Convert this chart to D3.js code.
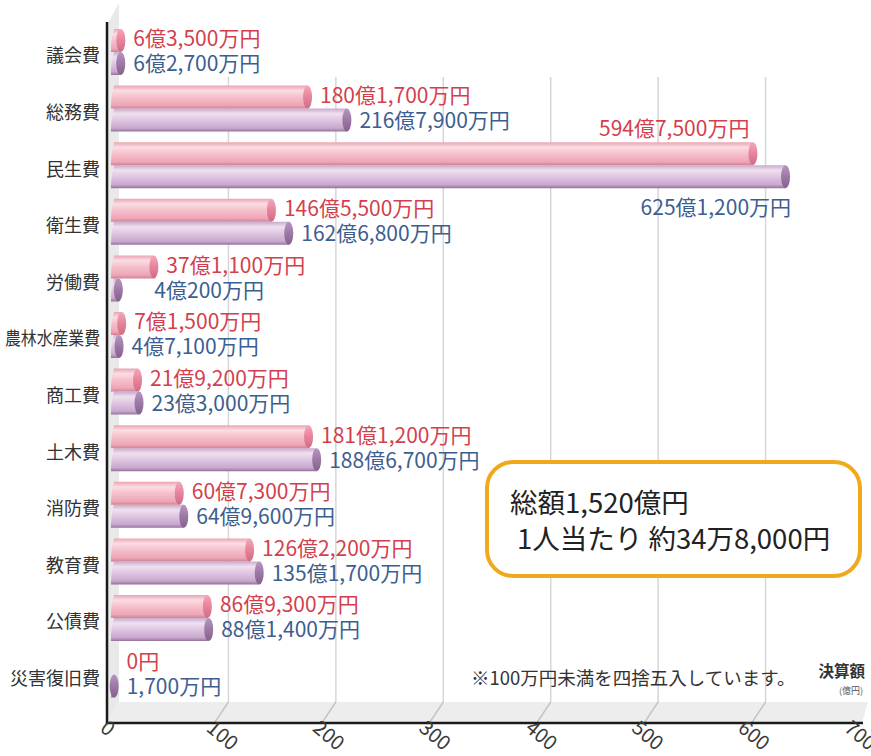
<!DOCTYPE html>
<html>
<head>
<meta charset="utf-8">
<script src="https://cdn.jsdelivr.net/npm/d3@7"></script>
<style>
  body { margin: 0; background: #fff; }
  svg { display: block; font-family: "Noto Sans CJK JP", "Noto Sans", sans-serif; }
</style>
</head>
<body>
<div id="chart"></div>
<script>
// 歳出 決算額 (億円)
var categories = ["議会費", "総務費", "民生費", "衛生費", "労働費", "農林水産業費", "商工費", "土木費", "消防費", "教育費", "公債費", "災害復旧費"];
var pinkValues = [6.35, 180.17, 594.75, 146.55, 37.11, 7.15, 21.92, 181.12, 60.73, 126.22, 86.93, 0];
var purpleValues = [6.27, 216.79, 625.12, 162.68, 4.02, 4.71, 23.30, 188.67, 64.96, 135.17, 88.14, 0.17];
var pinkLabels = ["6億3,500万円", "180億1,700万円", "594億7,500万円", "146億5,500万円", "37億1,100万円", "7億1,500万円", "21億9,200万円", "181億1,200万円", "60億7,300万円", "126億2,200万円", "86億9,300万円", "0円"];
var purpleLabels = ["6億2,700万円", "216億7,900万円", "625億1,200万円", "162億6,800万円", "4億200万円", "4億7,100万円", "23億3,000万円", "188億6,700万円", "64億9,600万円", "135億1,700万円", "88億1,400万円", "1,700万円"];
var tickValues = [0, 100, 200, 300, 400, 500, 600, 700];
var totalLines = ["総額1,520億円", "1人当たり 約34万8,000円"];
var noteText = "※100万円未満を四捨五入しています。";

var W = 871, H = 756;
var svg = d3.select("#chart").append("svg").attr("width", W).attr("height", H);

// three depth planes: back wall, bar plane, front edge of floor
var xBack = d3.scaleLinear().domain([0, 700]).range([121, 873]);
var xBar = d3.scaleLinear().domain([0, 700]).range([114, 866]);
var xFront = d3.scaleLinear().domain([0, 700]).range([107, 859]);
var xTickLabel = d3.scaleLinear().domain([0, 700]).range([99, 843]);
var y = d3.scaleBand().domain(categories).range([23.7, 702.9]);
var floorBack = 702, floorFront = 723;

var defs = svg.append("defs");
function cylGrad(id, stops) {
	var g = defs.append("linearGradient").attr("id", id)
		.attr("x1", 0).attr("y1", 0).attr("x2", 0).attr("y2", 1);
	g.selectAll("stop").data(stops).enter().append("stop")
		.attr("offset", function(d) { return d[0]; })
		.attr("stop-color", function(d) { return d[1]; });
}
cylGrad("pinkBody", [[0, "#eaa3b3"], [0.22, "#fbdde4"], [0.5, "#f5c0cb"], [0.85, "#eea6b6"], [1, "#cf8395"]]);
cylGrad("purpleBody", [[0, "#c9a9cd"], [0.22, "#efe0f0"], [0.5, "#dfc6e1"], [0.85, "#c9a8ce"], [1, "#94719c"]]);
cylGrad("pinkCap", [[0, "#f3a7b9"], [0.5, "#e7839b"], [1, "#cf6d86"]]);
cylGrad("purpleCap", [[0, "#b795bd"], [0.5, "#9d78a6"], [1, "#83628b"]]);

// left wall
svg.append("polygon")
	.attr("points", [[107, 25], [119, 3], [119, floorBack], [107, floorFront]].join(" "))
	.attr("fill", "#e9e9e9");

// floor
svg.append("polygon")
	.attr("points", [[119, floorBack], [xBack(700) - 5, floorBack], [xFront(700) + 3, floorFront], [107, floorFront]].join(" "))
	.attr("fill", "#ededed");

// gridlines on back wall and floor
var grid = svg.append("g").attr("stroke", "#d6d6d6").attr("stroke-width", 1.5).attr("fill", "none");
grid.selectAll(".gv").data(tickValues.slice(1, 7)).enter().append("line")
	.attr("x1", function(d) { return xBack(d); }).attr("x2", function(d) { return xBack(d); })
	.attr("y1", 77).attr("y2", floorBack);
grid.selectAll(".gf").data(tickValues.slice(1, 7)).enter().append("line")
	.attr("stroke", "#c4c4c4")
	.attr("x1", function(d) { return xBack(d); }).attr("x2", function(d) { return xFront(d); })
	.attr("y1", floorBack).attr("y2", floorFront);

// axis lines
svg.append("line").attr("x1", 107).attr("x2", 107).attr("y1", 22).attr("y2", floorFront + 1)
	.attr("stroke", "#1a1a1a").attr("stroke-width", 2.5);
svg.append("line").attr("x1", 106).attr("x2", xFront(700) + 4).attr("y1", floorFront).attr("y2", floorFront)
	.attr("stroke", "#1a1a1a").attr("stroke-width", 2.5);

// bars
var barH = 23, capRx = 4.5, x0 = 111;
function drawBar(g, v, top, body, cap) {
	if (v <= 0) return;
	var xe = Math.max(xBar(v), x0 + 2);
	g.append("path")
		.attr("d", "M" + (x0 + 3) + "," + top + " L" + xe + "," + top + " L" + xe + "," + (top + barH) +
			" L" + x0 + "," + (top + barH) + " Q" + (x0 - 0.5) + "," + (top + barH / 2) + " " + (x0 + 3) + "," + top + " Z")
		.attr("fill", "url(#" + body + ")");
	g.append("ellipse")
		.attr("cx", xe).attr("cy", top + barH / 2)
		.attr("rx", capRx).attr("ry", barH / 2)
		.attr("fill", "url(#" + cap + ")");
}

var rows = svg.append("g");
categories.forEach(function(cat, i) {
	var c = y(cat) + y.bandwidth() / 2;
	var row = rows.append("g").attr("class", "row");
	drawBar(row, purpleValues[i], c, "purpleBody", "purpleCap");
	drawBar(row, pinkValues[i], c - barH, "pinkBody", "pinkCap");
});

// value labels
var labels = svg.append("g").attr("font-size", 21);
categories.forEach(function(cat, i) {
	var c = y(cat) + y.bandwidth() / 2;
	var pinkEdge = xBar(pinkValues[i]) + capRx;
	var purpleEdge = xBar(purpleValues[i]) + capRx;
	var pink = labels.append("text").attr("fill", "#d43f4d").attr("dy", "0.35em").text(pinkLabels[i]);
	var purple = labels.append("text").attr("fill", "#3c5e91").attr("dy", "0.35em").text(purpleLabels[i]);
	if (purpleEdge > 700) {
		// long bar: labels sit above and below, ending at the bar tip
		pink.attr("text-anchor", "end").attr("x", pinkEdge - 8).attr("y", c - 37);
		purple.attr("text-anchor", "end").attr("x", purpleEdge + 1).attr("y", c + 42);
	} else {
		pink.attr("x", pinkEdge + 8).attr("y", c - 13);
		purple.attr("x", Math.max(purpleEdge, pinkEdge - 12) + 8).attr("y", c + 12);
	}
});

// category labels
svg.append("g").selectAll("text").data(categories).enter().append("text")
	.attr("x", 100)
	.attr("y", function(d) { return y(d) + y.bandwidth() / 2 + 4; })
	.attr("dy", "0.35em")
	.attr("text-anchor", "end")
	.attr("font-size", 18)
	.attr("fill", "#333")
	.attr("textLength", function(d) { return d.length > 5 ? 95 : null; })
	.attr("lengthAdjust", "spacingAndGlyphs")
	.text(function(d) { return d; });

// x tick labels (slanted)
svg.append("g").selectAll("text").data(tickValues).enter().append("text")
	.attr("transform", function(d) { return "translate(" + xTickLabel(d) + "," + 730 + ") rotate(40)"; })
	.attr("font-size", 20)
	.attr("fill", "#3a3a3a")
	.text(function(d) { return d; });

// axis title
svg.append("text").attr("x", 865).attr("y", 672).attr("dy", "0.35em")
	.attr("text-anchor", "end").attr("font-size", 15.5).attr("font-weight", "bold").attr("fill", "#333")
	.text("決算額");
svg.append("text").attr("x", 863).attr("y", 691).attr("dy", "0.35em")
	.attr("text-anchor", "end").attr("font-size", 9).attr("fill", "#555")
	.text("(億円)");

// note
svg.append("text").attr("x", 471).attr("y", 679).attr("dy", "0.35em")
	.attr("font-size", 18.5).attr("fill", "#333")
	.text(noteText);

// total box
svg.append("rect")
	.attr("x", 487).attr("y", 462).attr("width", 373).attr("height", 114)
	.attr("rx", 26).attr("ry", 26)
	.attr("fill", "#fff").attr("stroke", "#efa91b").attr("stroke-width", 4);
svg.append("g").selectAll("text").data(totalLines).enter().append("text")
	.attr("x", function(d, i) { return i === 0 ? 510 : 517; })
	.attr("y", function(d, i) { return i === 0 ? 503 : 539; })
	.attr("dy", "0.35em")
	.attr("font-size", 27.5)
	.attr("fill", "#222")
	.text(function(d) { return d; });
</script>
</body>
</html>
